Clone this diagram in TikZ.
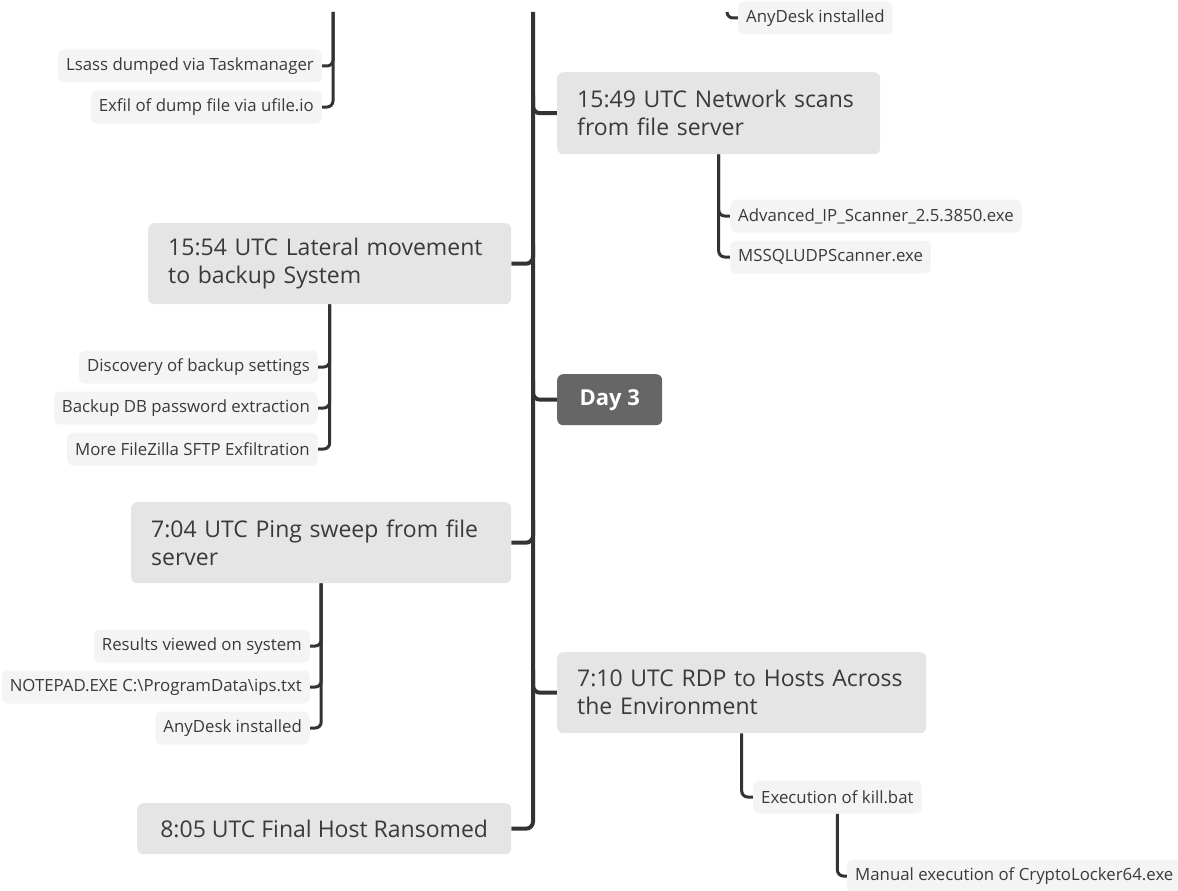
\documentclass[tikz,border=0pt]{standalone}
\usepackage{fontspec}
\setmainfont{Open Sans}
\usetikzlibrary{backgrounds}
\definecolor{linec}{HTML}{333333}
\definecolor{textc}{HTML}{3A3A3A}
\definecolor{bigfill}{HTML}{E5E5E5}
\definecolor{smallfill}{HTML}{F4F4F4}
\definecolor{dayfill}{HTML}{666666}
\begin{document}
\begin{tikzpicture}[x=1pt,y=-1pt,
  conn/.style={draw=linec, line width=4pt, rounded corners=7pt},
  sub/.style={draw=linec, line width=3pt, rounded corners=6pt},
  big/.style={fill=bigfill, rounded corners=6pt, inner xsep=20pt, inner ysep=0pt,
    align=left, text=textc, font=\fontsize{23}{28}\selectfont, anchor=north west},
  small/.style={fill=smallfill, rounded corners=6pt, inner xsep=8pt, inner ysep=0pt,
    minimum height=33pt, text=textc, font=\fontsize{16.8}{20}\selectfont},
  dayc/.style={fill=dayfill, rounded corners=6pt, text=white,
    font=\fontsize{22}{26}\selectfont\bfseries, anchor=north west,
    minimum width=105pt, minimum height=51pt, inner sep=0pt}
]
\useasboundingbox (0,0) rectangle (1178,891);

% main nodes
\node[big, text width=283pt, minimum height=82pt] (n1549) at (557,72) {15:49 UTC Network scans\\from file server};
\node[big, text width=323pt, minimum height=81pt] (n1554) at (148,223) {15:54 UTC Lateral movement\\to backup System};
\node[dayc] (day3) at (557,374) {Day 3};
\node[big, text width=340pt, minimum height=81pt] (n704) at (131,502) {7:04 UTC Ping sweep from file\\server};
\node[big, text width=329pt, minimum height=81pt] (n710) at (557,652) {7:10 UTC RDP to Hosts Across\\the Environment};
\node[big, align=center, minimum width=374pt, minimum height=51pt] (n805) at (137,803) {8:05 UTC Final Host Ransomed};

% small nodes
\node[small, anchor=east] (lsass) at (322,66) {Lsass dumped via Taskmanager};
\node[small, anchor=east] (exfil) at (322,107) {Exfil of dump file via ufile.io};
\node[small, anchor=west] (any1) at (738,18) {AnyDesk installed};
\node[small, anchor=west] (adv) at (730,216) {Advanced\_IP\_Scanner\_2.5.3850.exe};
\node[small, anchor=west] (mssql) at (730,257) {MSSQLUDPScanner.exe};
\node[small, anchor=east] (disc) at (318,367) {Discovery of backup settings};
\node[small, anchor=east] (bkdb) at (318,408) {Backup DB password extraction};
\node[small, anchor=east] (fz) at (318,449) {More FileZilla SFTP Exfiltration};
\node[small, anchor=east] (res) at (310,646) {Results viewed on system};
\node[small, anchor=east] (note) at (310,687) {NOTEPAD.EXE C:\textbackslash ProgramData\textbackslash ips.txt};
\node[small, anchor=east] (any2) at (310,728) {AnyDesk installed};
\node[small, anchor=west] (kill) at (753,797) {Execution of kill.bat};
\node[small, anchor=west] (crypto) at (847,876) {Manual execution of CryptoLocker64.exe};

\coordinate (ttop) at (533,12);
\coordinate (ltop) at (333,12);
\coordinate (rtop) at (727,12);

\begin{scope}[on background layer]
  % trunk and branches
  \draw[conn] (ttop) |- (n805.east);
  \draw[conn] (533,95) |- (n1549.west);
  \draw[conn] (533,245) |- (n1554.east);
  \draw[conn] (533,380) |- (day3.west);
  \draw[conn] (533,520) |- (n704.east);
  \draw[conn] (533,670) |- (n710.west);
  % sub branches
  \draw[sub] (ltop) |- (lsass.east);
  \draw[sub] (ltop) |- (exfil.east);
  \draw[sub] (rtop) |- (any1.west);
  \draw[sub] (n1549.south) |- (adv.west);
  \draw[sub] (n1549.south) |- (mssql.west);
  \draw[sub] (n1554.south) |- (disc.east);
  \draw[sub] (n1554.south) |- (bkdb.east);
  \draw[sub] (n1554.south) |- (fz.east);
  \draw[sub] (n704.south) |- (res.east);
  \draw[sub] (n704.south) |- (note.east);
  \draw[sub] (n704.south) |- (any2.east);
  \draw[sub] (n710.south) |- (kill.west);
  \draw[sub] (kill.south) |- (crypto.west);
\end{scope}
\end{tikzpicture}
\end{document}
